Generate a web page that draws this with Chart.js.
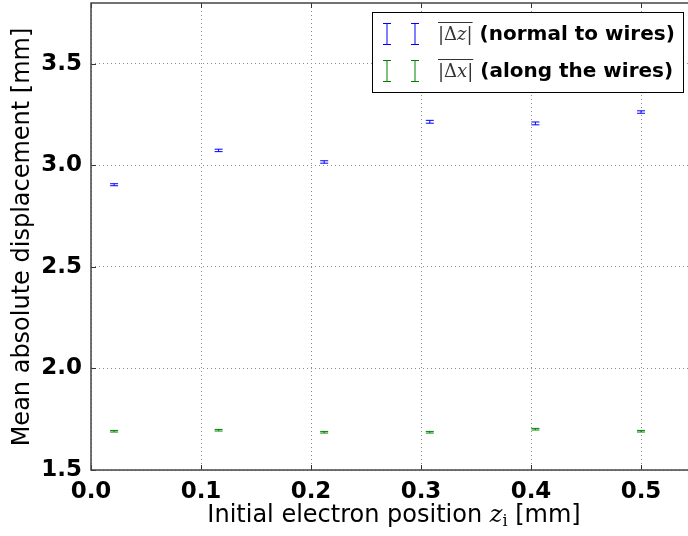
<!DOCTYPE html>
<html>
<head>
<meta charset="utf-8">
<script src="https://cdn.jsdelivr.net/npm/chart.js@4.4.0/dist/chart.umd.min.js"></script>
<style>
  html, body { margin: 0; padding: 0; background: #fff; overflow: hidden; }
  #wrap { width: 700px; height: 536px; }
</style>
</head>
<body>
<div id="wrap"><canvas id="plot" width="700" height="536"></canvas></div>
<script>
// data
const zInit = [0.021, 0.116, 0.212, 0.308, 0.404, 0.500];
const dzMean = [2.905, 3.074, 3.017, 3.215, 3.207, 3.263];
const dzErr = [0.005, 0.006, 0.006, 0.007, 0.007, 0.006];
const dxMean = [1.691, 1.696, 1.686, 1.686, 1.701, 1.691];
const dxErr = [0.004, 0.004, 0.004, 0.004, 0.004, 0.004];
const xTicks = [0.0, 0.1, 0.2, 0.3, 0.4, 0.5];
const yTicks = [1.5, 2.0, 2.5, 3.0, 3.5];

const BLUE = '#0000ff';
const GREEN = '#008000';

function toPoints(xs, ys) {
    return xs.map((x, i) => ({ x: x, y: ys[i] }));
}

// error bars drawn from the scales
const errorBars = {
    id: 'errorBars',
    afterDatasetsDraw(chart) {
        const ctx = chart.ctx;
        const xs = chart.scales.x, ys = chart.scales.y;
        chart.data.datasets.forEach(ds => {
            ctx.save();
            ctx.strokeStyle = ds.borderColor;
            ctx.lineWidth = 1;
            ds.data.forEach((p, j) => {
                const px = xs.getPixelForValue(p.x);
                const top = ys.getPixelForValue(p.y + ds.errors[j]);
                const bot = ys.getPixelForValue(p.y - ds.errors[j]);
                ctx.beginPath();
                ctx.moveTo(px, top); ctx.lineTo(px, bot);
                ctx.moveTo(px - 4, top); ctx.lineTo(px + 4, top);
                ctx.moveTo(px - 4, bot); ctx.lineTo(px + 4, bot);
                ctx.stroke();
            });
            ctx.restore();
        });
    }
};

// frame, inward ticks, axis titles and the legend box
const decorations = {
    id: 'decorations',
    afterDraw(chart) {
        const ctx = chart.ctx;
        const a = chart.chartArea;
        const xs = chart.scales.x, ys = chart.scales.y;
        ctx.save();

        // inward tick marks
        ctx.strokeStyle = '#333';
        ctx.lineWidth = 1;
        ctx.beginPath();
        xTicks.forEach(t => {
            const px = Math.round(xs.getPixelForValue(t)) + 0.5;
            ctx.moveTo(px, a.bottom); ctx.lineTo(px, a.bottom - 5);
            ctx.moveTo(px, a.top); ctx.lineTo(px, a.top + 5);
        });
        yTicks.forEach(t => {
            const py = Math.round(ys.getPixelForValue(t)) + 0.5;
            ctx.moveTo(a.left, py); ctx.lineTo(a.left + 5, py);
        });
        ctx.stroke();

        // frame
        ctx.strokeStyle = '#444';
        ctx.lineWidth = 1.5;
        ctx.strokeRect(a.left, a.top, a.right - a.left, a.bottom - a.top);

        // x title with math z_i
        ctx.fillStyle = '#000';
        ctx.textBaseline = 'alphabetic';
        const f1 = '24px "DejaVu Sans"';
        const fz = 'italic 24px "DejaVu Serif"';
        const fi = '16px "DejaVu Serif"';
        const s1 = 'Initial electron position ', s3 = ' [mm]';
        ctx.font = f1; const w1 = ctx.measureText(s1).width; const w3 = ctx.measureText(s3).width;
        ctx.font = fz; const wz = ctx.measureText('z').width;
        ctx.font = fi; const wi = ctx.measureText('i').width;
        let x0 = 394 - (w1 + wz + wi + w3) / 2;
        const by = 522;
        ctx.font = f1; ctx.fillText(s1, x0, by); x0 += w1;
        ctx.font = fz; ctx.fillText('z', x0, by); x0 += wz;
        ctx.font = fi; ctx.fillText('i', x0, by + 4); x0 += wi;
        ctx.font = f1; ctx.fillText(s3, x0, by);

        // y title
        ctx.save();
        ctx.translate(29, 237);
        ctx.rotate(-Math.PI / 2);
        ctx.textAlign = 'center';
        ctx.font = f1;
        ctx.fillText('Mean absolute displacement [mm]', 0, 0);
        ctx.restore();

        // legend
        const lx = 372, ly = 12, lw = 311, lh = 80;
        ctx.fillStyle = '#fff';
        ctx.fillRect(lx, ly, lw, lh);
        ctx.strokeStyle = '#000';
        ctx.lineWidth = 1;
        ctx.strokeRect(lx + 0.5, ly + 0.5, lw, lh);
        const rows = [
            { color: BLUE, sym: 'z', text: '(normal to wires)', cy: 34 },
            { color: GREEN, sym: 'x', text: '(along the wires)', cy: 71 }
        ];
        rows.forEach(r => {
            ctx.strokeStyle = r.color;
            ctx.lineWidth = 1;
            [387, 415].forEach(mx => {
                ctx.beginPath();
                ctx.moveTo(mx, r.cy - 11); ctx.lineTo(mx, r.cy + 11);
                ctx.moveTo(mx - 4, r.cy - 10.5); ctx.lineTo(mx + 4, r.cy - 10.5);
                ctx.moveTo(mx - 4, r.cy + 10.5); ctx.lineTo(mx + 4, r.cy + 10.5);
                ctx.stroke();
            });
            // math label |Δz| with overline
            ctx.fillStyle = '#333';
            let tx = 438;
            const base = r.cy + 6;
            ctx.font = '18px "DejaVu Serif"';
            ctx.fillText('|Δ', tx, base); tx += ctx.measureText('|Δ').width;
            ctx.font = 'italic 18px "DejaVu Serif"';
            ctx.fillText(r.sym, tx, base); tx += ctx.measureText(r.sym).width;
            ctx.font = '18px "DejaVu Serif"';
            ctx.fillText('|', tx, base); tx += ctx.measureText('|').width;
            ctx.strokeStyle = '#333';
            ctx.beginPath();
            ctx.moveTo(438, r.cy - 11.5); ctx.lineTo(tx, r.cy - 11.5);
            ctx.stroke();
            ctx.fillStyle = '#000';
            ctx.font = 'bold 20px "DejaVu Sans"';
            ctx.fillText(r.text, tx + 7, base);
        });
        ctx.restore();
    }
};

const ctx = document.getElementById('plot').getContext('2d');
const chart = new Chart(ctx, {
    type: 'scatter',
    data: {
        datasets: [{
            label: 'dz',
            data: toPoints(zInit, dzMean),
            errors: dzErr,
            borderColor: BLUE,
            backgroundColor: BLUE,
            pointRadius: 0
        }, {
            label: 'dx',
            data: toPoints(zInit, dxMean),
            errors: dxErr,
            borderColor: GREEN,
            backgroundColor: GREEN,
            pointRadius: 0
        }]
    },
    options: {
        responsive: false,
        animation: false,
        layout: { padding: { left: 0, top: 3, right: 4, bottom: 0 } },
        plugins: {
            legend: { display: false },
            tooltip: { enabled: false }
        },
        scales: {
            x: {
                type: 'linear',
                min: 0,
                max: 0.55,
                afterBuildTicks: s => { s.ticks = xTicks.map(v => ({ value: v })); },
                afterFit: s => { s.height = 66; s.paddingLeft = 0; s.paddingRight = 0; },
                grid: { color: '#8c8c8c', lineWidth: 1, drawTicks: false },
                border: { display: false, dash: [1, 3] },
                ticks: {
                    color: '#000',
                    padding: 8,
                    maxRotation: 0,
                    font: { family: 'DejaVu Sans', size: 23, weight: 'bold' },
                    callback: v => v.toFixed(1)
                }
            },
            y: {
                type: 'linear',
                min: 1.5,
                max: 3.8,
                afterBuildTicks: s => { s.ticks = yTicks.map(v => ({ value: v })); },
                afterFit: s => { s.width = 91; s.paddingTop = 0; s.paddingBottom = 0; },
                grid: { color: '#8c8c8c', lineWidth: 1, drawTicks: false },
                border: { display: false, dash: [1, 3] },
                ticks: {
                    color: '#000',
                    padding: 9,
                    font: { family: 'DejaVu Sans', size: 23, weight: 'bold' },
                    callback: v => v.toFixed(1)
                }
            }
        }
    },
    plugins: [errorBars, decorations]
});
</script>
</body>
</html>
